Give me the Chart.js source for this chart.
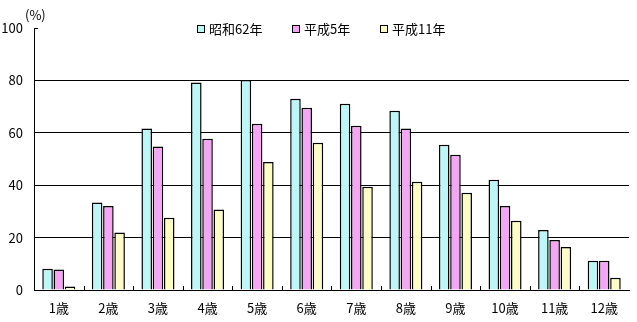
<!DOCTYPE html>
<html>
<head>
<meta charset="utf-8">
<script src="https://cdn.jsdelivr.net/npm/chart.js@4/dist/chart.umd.min.js"></script>
<style>
  html,body{margin:0;padding:0;background:#fff;}
  #wrap{width:637px;height:322px;}
</style>
</head>
<body>
<div id="wrap"><canvas id="chart" width="637" height="322"></canvas></div>
<script>
// ----- Data -----
const AGES = ['1歳','2歳','3歳','4歳','5歳','6歳','7歳','8歳','9歳','10歳','11歳','12歳'];
const S62 = [8.1, 33.4, 61.6, 79.2, 80.2, 73.0, 71.1, 68.4, 55.4, 42.1, 22.9, 11.2];
const H5  = [7.8, 32.1, 54.8, 57.7, 63.5, 69.6, 62.7, 61.6, 51.6, 32.1, 19.1, 11.2];
const H11 = [1.3, 21.9, 27.6, 30.7, 48.9, 56.2, 39.4, 41.3, 37.1, 26.4, 16.4, 4.7];
const SERIES = ['昭和62年','平成5年','平成11年'];
const Y_TICKS = [0, 20, 40, 60, 80, 100];

const FONT = '"Noto Sans CJK JP", "DejaVu Sans", sans-serif';
// pale tints standing in for the dithered dot fills
const FILLS = ['#bdf6f6', '#f4a6f4', '#fcfcc4'];

const ctx = document.getElementById('chart').getContext('2d');

// legend, (%) label and inside tick marks
const extras = {
  id:'extras',
  afterDraw(chart){
    const {ctx, chartArea:a, scales:{x, y}} = chart;
    ctx.save();
    ctx.strokeStyle = '#000'; ctx.lineWidth = 1;
    const step = x.width / AGES.length;
    ctx.beginPath();
    for(let i=1;i<AGES.length;i++){
      const px = Math.round(x.getPixelForValue(i) - step/2) + 0.5;
      ctx.moveTo(px, a.bottom); ctx.lineTo(px, a.bottom - 4);
    }
    const ty = Math.round(y.getPixelForValue(100)) + 0.5;
    ctx.moveTo(a.left, ty); ctx.lineTo(a.left + 4, ty);
    ctx.stroke();

    ctx.fillStyle = '#000';
    ctx.font = '13px ' + FONT;
    ctx.textBaseline = 'middle';
    ctx.textAlign = 'left';
    ctx.fillText('(%)', 25, 15);

    const lx = [197, 292, 380];
    chart.data.datasets.forEach((ds, i) => {
      ctx.fillStyle = FILLS[i];
      ctx.fillRect(lx[i], 25, 7, 7);
      ctx.strokeStyle = '#000';
      ctx.strokeRect(lx[i] + 0.5, 25.5, 7, 7);
      ctx.fillStyle = '#000';
      ctx.fillText(ds.label, lx[i] + 12, 29);
    });
    ctx.restore();
  }
};

new Chart(ctx, {
  type:'bar',
  data:{
    labels: AGES,
    datasets:[
      {label:SERIES[0], data:S62, backgroundColor:FILLS[0]},
      {label:SERIES[1], data:H5,  backgroundColor:FILLS[1]},
      {label:SERIES[2], data:H11, backgroundColor:FILLS[2]}
    ].map(d => Object.assign(d, {borderColor:'#000', borderWidth:1.5, categoryPercentage:0.68, barPercentage:0.94}))
  },
  options:{
    responsive:false,
    animation:false,
    layout:{padding:{top:28, right:8, left:0, bottom:0}},
    plugins:{ legend:{display:false}, tooltip:{enabled:false} },
    scales:{
      x:{
        grid:{display:false},
        border:{color:'#000', width:1},
        ticks:{color:'#000', font:{family:FONT, size:13}, padding:2, maxRotation:0},
        afterFit(s){ s.height = 32; }
      },
      y:{
        min:0, max:100,
        afterBuildTicks(s){ s.ticks = Y_TICKS.map(v => ({value:v})); },
        grid:{ color: c => (c.tick.value === 0 || c.tick.value === 100) ? 'rgba(0,0,0,0)' : '#000', lineWidth:1, drawTicks:false },
        border:{color:'#000', width:1},
        ticks:{color:'#000', font:{family:FONT, size:13}, padding:11},
        afterFit(s){ s.width = 34; }
      }
    }
  },
  plugins:[extras]
});
</script>
</body>
</html>
